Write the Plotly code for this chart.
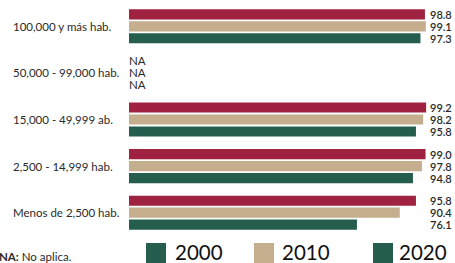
import plotly.graph_objects as go

categories = ["100,000 y más hab.", "50,000 - 99,000 hab.", "15,000 - 49,999 ab.",
              "2,500 - 14,999 hab.", "Menos de 2,500 hab."]
years = ["2000", "2010", "2020"]
v2000 = [98.8, None, 99.2, 99.0, 95.8]
v2010 = [99.1, None, 98.2, 97.8, 90.4]
v2020 = [97.3, None, 95.8, 94.8, 76.1]
bar_colors = ["#A02241", "#C4AE8E", "#255E4F"]
legend_colors = ["#255E4F", "#C4AE8E", "#255E4F"]
note_bold = "NA:"
note_text = " No aplica."

W, H = 455, 263
ML, MR, MT, MB = 129, 1, 3, 27
PW, PH = W - ML - MR, H - MT - MB
FONT = "Lato"
TXT = "#2a2a2a"

def px(x):
    return (x - ML) / PW

def py(y):
    return (H - MB - y) / PH

series = [v2000, v2010, v2020]
fig = go.Figure()
for name, vals, col in zip(years, series, bar_colors):
    fig.add_trace(go.Bar(
        y=categories, x=[v if v is not None else 0 for v in vals],
        orientation="h", name=name, marker=dict(color=col, line=dict(width=0)),
        showlegend=False, hoverinfo="skip"))

ann = []
shifts = [12, 0, -12]
for j, vals in enumerate(series):
    for i, v in enumerate(vals):
        if v is None:
            ann.append(dict(x=0, xref="x", y=categories[i], yref="y", yshift=shifts[j],
                            text="NA", showarrow=False, xanchor="left", xshift=-2,
                            font=dict(family=FONT, size=11.5, color=TXT)))
        else:
            ann.append(dict(x=1, xref="paper", y=categories[i], yref="y", yshift=shifts[j],
                            text=f"{v:.1f}", showarrow=False, xanchor="right",
                            font=dict(family=FONT, size=11, color=TXT, weight=600)))

for c in categories:
    ann.append(dict(x=px(11), xref="paper", y=c, yref="y", text=c, showarrow=False,
                    xanchor="left", font=dict(family=FONT, size=11.5, color=TXT)))

# note
ann.append(dict(x=px(-3), xref="paper", y=py(256), yref="paper",
                text=f"<b>{note_bold}</b>{note_text}", showarrow=False, xanchor="left",
                yanchor="middle", font=dict(family=FONT, size=11.5, color=TXT)))

# custom legend
shapes = []
sq_x = [146, 254, 373]
tx_x = [173, 280, 397]
for k, yname in enumerate(years):
    shapes.append(dict(type="rect", xref="paper", yref="paper",
                       x0=px(sq_x[k]), x1=px(sq_x[k] + 20), y0=py(264), y1=py(243),
                       fillcolor=legend_colors[k], line=dict(width=0)))
    ann.append(dict(x=px(tx_x[k]), xref="paper", y=py(252), yref="paper", text=yname,
                    showarrow=False, xanchor="left", yanchor="middle",
                    font=dict(family=FONT, size=20.5, color="#111")))

fig.update_layout(
    width=W, height=H, margin=dict(l=ML, r=MR, t=MT, b=MB),
    barmode="group", bargap=0.23, bargroupgap=0.15,
    plot_bgcolor="white", paper_bgcolor="white",
    xaxis=dict(range=[0, 108.5], visible=False, fixedrange=True),
    yaxis=dict(autorange="reversed", showticklabels=False, showgrid=False,
               zeroline=False, showline=False, ticks="", fixedrange=True),
    annotations=ann, shapes=shapes, showlegend=False,
    font=dict(family=FONT, size=11, color=TXT),
)
fig.write_html("out.html", config={"displayModeBar": False},
               post_script="document.body.style.margin='0';document.body.style.overflow='hidden';")
